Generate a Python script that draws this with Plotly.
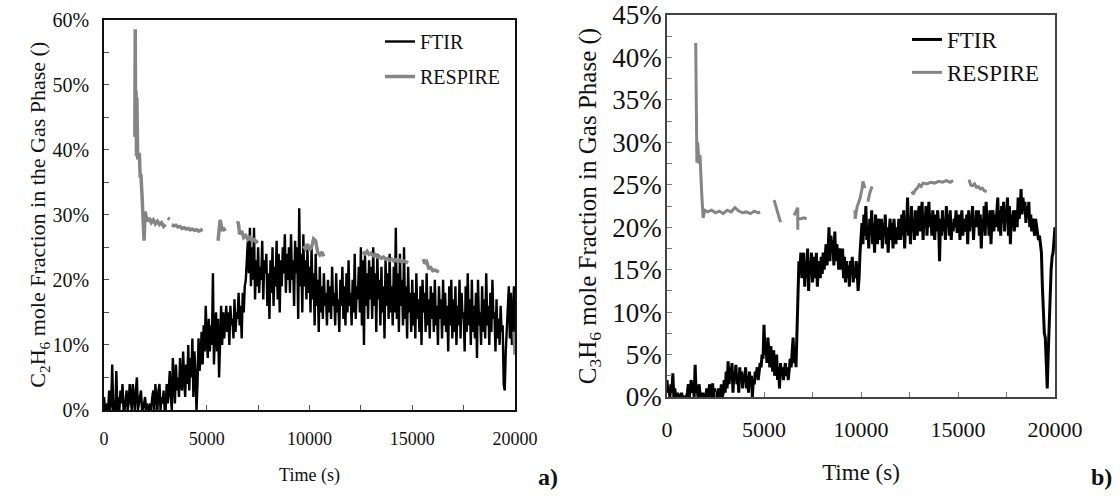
import plotly.graph_objects as go

# ---------------- data (values in %) ----------------
ftir_a_t0, ftir_a_step = 0, 50
ftir_a_vals = [
    2, 0, 0, 1, 0, 3, 0, 1, 7, 0, 1, 0, 6, 0, 2, 0, 3, 1, 4, 0,
    0, 2, 3, 0, 1, 4, 2, 0, 4, 1, 0, 3, 5, 0, 1, 2, 3, 0, 0, 1,
    2, 0, 1, 0, 0, 1, 0, 2, 3, 0, 4, 1, 0, 3, 4, 0, 2, 1, 3, 0,
    0, 4, 1, 3, 6, 2, 0, 8, 4, 1, 7, 3, 5, 2, 8, 4, 3, 9, 5, 2,
    7, 4, 10, 3, 8, 5, 11, 2, 9, 6, 0, 4, 11, 6, 8, 12, 7, 13, 9, 16,
    11, 8, 14, 9, 13, 10, 21, 7, 12, 15, 9, 14, 5, 13, 16, 10, 15, 11, 14, 16,
    12, 15, 10, 16, 13, 14, 11, 17, 12, 15, 14, 18, 13, 16, 11, 18, 15, 19, 20, 24,
    26, 21, 28, 19, 25, 20, 28, 17, 23, 19, 25, 18, 22, 20, 26, 17, 23, 21, 24, 16,
    21, 14, 23, 18, 25, 16, 22, 19, 26, 17, 24, 15, 23, 19, 25, 21, 27, 18, 24, 20,
    25, 18, 27, 20, 23, 16, 26, 21, 25, 14, 31, 19, 24, 15, 27, 19, 23, 17, 25, 18,
    22, 15, 25, 17, 21, 13, 24, 16, 20, 12, 22, 15, 19, 14, 21, 16, 18, 13, 20, 15,
    19, 14, 22, 16, 18, 13, 21, 15, 17, 12, 20, 16, 22, 14, 19, 13, 21, 15, 23, 16,
    18, 13, 20, 15, 24, 14, 19, 17, 22, 15, 25, 13, 23, 10, 24, 16, 21, 14, 23, 17,
    22, 14, 25, 16, 21, 12, 24, 17, 20, 13, 22, 15, 19, 11, 23, 16, 21, 14, 24, 15,
    19, 13, 22, 15, 28, 14, 21, 12, 24, 16, 20, 13, 25, 14, 19, 11, 22, 15, 18, 12,
    20, 13, 18, 11, 21, 14, 17, 12, 19, 10, 20, 15, 18, 12, 21, 13, 17, 11, 19, 14,
    18, 12, 20, 13, 16, 10, 19, 14, 17, 11, 20, 13, 18, 12, 16, 9, 19, 13, 20, 11,
    17, 12, 19, 10, 16, 13, 20, 11, 18, 14, 15, 9, 19, 12, 21, 13, 17, 10, 20, 12,
    16, 11, 18, 8, 20, 13, 15, 10, 19, 12, 17, 11, 21, 13, 16, 10, 18, 12, 20, 14,
    15, 9, 17, 11, 14, 10, 16, 12, 13, 4, 3, 9, 12, 15, 19, 11, 18, 10, 14, 19,
    12,
]

resp_a_time = [
    1500, 1520, 1540, 1560, 1580, 1600, 1640, 1680, 1720, 1760, 1800, 1850, 1900, 1950,
    2000, 2100, 2200, 2300, 2400, 2500, 2600, 2700, 2800, 2900, 3000, None,
    3100, 3200, None,
    3300, 3400, 3500, 3600, 3700, 3800, 3900, 4000, 4100, 4200, 4300, 4400, 4500, 4600, 4700, 4800, None,
    5550, 5600, 5650, 5700, 5750, 5800, 5900, None,
    6500, 6550, 6600, 6700, 6800, 6900, 7000, 7100, 7200, 7300, 7400, 7500, None,
    9700, 9800, 9900, 10000, 10100, 10200, 10300, 10400, 10500, 10600, 10700, None,
    12600, 12700, 12800, 12900, 13000, 13100, 13200, 13300, 13400, 13500, 13600, 13700,
    13800, 13900, 14000, 14100, 14200, 14300, 14400, 14500, 14600, 14700, 14800, None,
    15550, 15600, 15700, 15800, 15900, 16000, 16100, 16300, None,
    19950, 20000,
]
resp_a_vals = [
    42, 58.5, 42, 49, 39, 48, 38.5, 39.5, 39.5, 36, 36, 33, 30, 26,
    30.5, 29, 29.5, 28.8, 29.2, 28.6, 29, 28.5, 28.8, 28.2, 28.5, None,
    29.5, 29.3, None,
    28.5, 28.3, 28.4, 28.1, 28.2, 27.9, 28.0, 27.8, 27.9, 27.7, 27.8, 27.6, 27.7, 27.5, 27.6, 27.8, None,
    26, 28.5, 29.2, 28.5, 27.5, 28, 27.5, None,
    29, 28.5, 27, 27.5, 26.5, 26.8, 26.2, 26.5, 26, 26.2, 25.8, 26, None,
    25.2, 24.8, 25.5, 24.6, 25, 26.3, 26, 24.2, 23.8, 24.3, 23.6, None,
    24.3, 24.0, 24.4, 23.9, 24.1, 23.7, 23.9, 23.5, 23.6, 23.3, 23.5, 23.2,
    23.3, 23.0, 23.2, 22.9, 23.1, 22.8, 23.0, 22.7, 22.9, 22.8, 22.6, None,
    23.2, 22.5, 22.8, 21.8, 21.9, 21.4, 21.5, 21.2, None,
    12, 8.5,
]

ftir_b_t0, ftir_b_step = 0, 50
ftir_b_vals = [
    2, 0.5, 1, 0, 1.5, 0.5, 2.8, 0, 1, 0, 0, 0.5, 0, 0, 0, 0.5, 0, 0, 0, 0,
    0, 0.5, 1.5, 0, 1, 2, 0.5, 1.5, 0, 3.8, 0.5, 1, 0, 1.5, 0.5, 0, 0, 0.5, 0, 0,
    0, 1, 0, 0.5, 1.5, 0, 0.5, 1.6, 0, 1, 0, 0.5, 0, 1, 0, 0, 1.5, 0, 0.5, 2,
    0.5, 3, 1, 4.2, 1.5, 3.5, 2, 4, 0.5, 3, 2, 3.8, 1.5, 2.5, 0.5, 3.5, 2, 3, 1, 2.5,
    2, 3.5, 1, 2.5, 0.5, 3, 1.5, 2.5, 0, 2, 1.5, 3, 2.5, 3.5, 2, 3, 4, 3.5, 5, 4.5,
    8.5, 5, 6.5, 4, 7, 5.5, 3.5, 6, 4.5, 3, 5.5, 2.5, 4, 5, 2, 3.5, 1, 4, 2.5, 3.5,
    2, 3, 4, 2.5, 3.5, 2, 3, 4.5, 3.5, 5, 7, 4, 6, 3.5, 9, 14, 16, 15, 17, 14,
    15.5, 17, 13, 16, 14, 17.5, 12.5, 16, 14.5, 17, 13.5, 15, 16.5, 14, 17, 13, 15.5, 16, 14, 16.5,
    14.5, 17, 15, 16.5, 18, 15.5, 17, 20, 16, 19, 17.5, 18.5, 15.5, 19.5, 16, 18, 17, 15, 17.5, 16,
    15, 17.5, 14, 16.5, 13.5, 16, 14, 15.5, 13, 16, 14.5, 16.5, 13.5, 15, 14, 16, 15, 12.5, 14, 17,
    19, 20.5, 18, 21.5, 19, 22.5, 18.5, 20, 17.5, 21, 19, 22, 18, 20.5, 17, 21.5, 19.5, 18, 21, 19,
    18.5, 21, 17.5, 20.5, 19, 21.5, 18, 20, 17, 19.5, 21, 18.5, 20.5, 17.5, 21, 19, 18, 20, 18.5, 21,
    20, 18.5, 21.5, 19, 22, 17.5, 20.5, 19.5, 23.5, 19, 21, 18, 22.5, 19.5, 21, 18.5, 22, 20, 19, 21.5,
    22.5, 19.5, 21, 23, 18.5, 21.5, 20, 22.5, 19, 21, 23, 20, 21.5, 19, 22, 20.5, 18.5, 21.5, 19.5, 22,
    20.5, 16, 21, 19, 22, 19.5, 21, 18.5, 22.5, 20, 21.5, 19, 22, 18.5, 20.5, 19.5, 21, 20, 22, 19.5,
    19.5, 21.5, 18.5, 20.5, 22, 19, 21, 20, 19.5, 21.5, 18, 22, 19.5, 21, 20.5, 22.5, 18.5, 21, 20, 22,
    20, 22, 19, 21.5, 17.5, 21, 19.5, 22.5, 19, 23, 20.5, 21.5, 19, 22, 18, 21, 22, 19.5, 21.5, 20,
    21.5, 23.5, 19.5, 22, 19, 22.5, 20.5, 23, 19.5, 22, 21, 23.5, 19, 22.5, 18, 21.5, 20, 22, 19.5, 21,
    22, 20, 23.5, 21, 22, 24.5, 21.5, 23.5, 22, 23, 20.5, 22.5, 21, 23, 20, 21.5, 19.5, 21, 20, 19,
    21, 20, 19.5, 18.5, 19, 17.5, 17, 13, 9, 7.5, 7, 3, 1, 5, 9, 12, 15, 16.5, 17, 18.5,
    20,
]

resp_b_time = [
    1480, 1500, 1520, 1540, 1580, 1620, 1660, 1700, 1750, 1790, 1860, 1950,
    2100, 2300, 2500, 2700, 2900, 3100, 3300, 3500, 3700, 3900, 4100, 4300, 4500, 4700, 4800, None,
    5520, 5600, 5700, 5800, 5860, None,
    6550, 6650, 6740, 6740, 6740, 6900, 7050, 7200, None,
    9690, 9700, 9800, 9950, 10050, 10100, 10200, None,
    10360, 10450, 10570, None,
    12610, 12700, 12800, 12900, 13000, 13100, 13200, 13400, 13600, 13800, 14000, 14200, 14400, 14600, 14750, None,
    15570, 15650, 15750, 15850, 15950, 16050, 16150, 16250, 16350, 16480,
]
resp_b_vals = [
    41.7, 29.7, 34.8, 27.6, 30, 28.5, 27.5, 28.5, 25, 24, 21.1, 22,
    21.8, 22, 21.7, 21.9, 21.6, 22, 21.8, 22.3, 21.9, 21.7, 21.8, 21.6, 21.9, 21.7, 21.8, None,
    23.2, 22.5, 21.8, 21, 20.6, None,
    21.4, 21.8, 22.3, 19.7, 21, 21, 21.1, 21, None,
    22, 21, 22.4, 23.4, 24.5, 25.4, 24.6, None,
    23, 24, 24.8, None,
    24.2, 23.9, 24.4, 24.6, 25, 24.8, 25.2, 25.1, 25.3, 25.2, 25.4, 25.3, 25.5, 25.3, 25.5, None,
    25.6, 25, 24.9, 25.1, 24.7, 24.8, 24.5, 24.6, 24.3, 24.2,
]

x_tick_vals = [0, 5000, 10000, 15000, 20000]
x_tick_text = ["0", "5000", "10000", "15000", "20000"]
ya_tick_vals = [0, 10, 20, 30, 40, 50, 60]
ya_tick_text = ["0%", "10%", "20%", "30%", "40%", "50%", "60%"]
yb_tick_vals = [0, 5, 10, 15, 20, 25, 30, 35, 40, 45]
yb_tick_text = ["0%", "5%", "10%", "15%", "20%", "25%", "30%", "35%", "40%", "45%"]

ftir_a_time = [ftir_a_t0 + i * ftir_a_step for i in range(len(ftir_a_vals))]
ftir_b_time = [ftir_b_t0 + i * ftir_b_step for i in range(len(ftir_b_vals))]

FONT = "Liberation Serif, Times New Roman, serif"
GRAY = "#858585"
TXT = "#111111"

fig = go.Figure()
fig.add_trace(go.Scatter(x=ftir_a_time, y=ftir_a_vals, mode="lines", name="FTIR",
                         line=dict(color="black", width=2.4), xaxis="x", yaxis="y",
                         legend="legend", legendgroup="a1"))
fig.add_trace(go.Scatter(x=resp_a_time, y=resp_a_vals, mode="lines", name="RESPIRE",
                         line=dict(color=GRAY, width=3.5), xaxis="x", yaxis="y",
                         legend="legend", legendgroup="a2", connectgaps=False))
fig.add_trace(go.Scatter(x=ftir_b_time, y=ftir_b_vals, mode="lines", name="FTIR",
                         line=dict(color="black", width=3), xaxis="x2", yaxis="y2",
                         legend="legend2", legendgroup="b1"))
fig.add_trace(go.Scatter(x=resp_b_time, y=resp_b_vals, mode="lines", name="RESPIRE",
                         line=dict(color=GRAY, width=3), xaxis="x2", yaxis="y2",
                         legend="legend2", legendgroup="b2", connectgaps=False))

W, H = 1120, 497


def px_x(p):
    return p / W


def px_y(p):
    return 1 - p / H


def fnt(size):
    return dict(family=FONT, size=size, color=TXT)


axis_common = dict(showline=True, mirror=True, showgrid=False, zeroline=False,
                   ticks="inside", ticklen=5, automargin=False, tickmode="array")

fig.update_layout(
    width=W, height=H,
    margin=dict(l=0, r=0, t=0, b=0, autoexpand=False),
    paper_bgcolor="white", plot_bgcolor="white",
    font=fnt(18),
    xaxis=dict(domain=[px_x(104), px_x(515)], range=[0, 20000], anchor="y",
               tickvals=x_tick_vals, ticktext=x_tick_text,
               minor=dict(dtick=2500, ticks="inside", ticklen=5, tickcolor="#555"),
               tickcolor="#555",
               linecolor="#111", linewidth=1.6, tickfont=fnt(18),
               ticklabelstandoff=12,
               title=dict(text="Time (s)", font=fnt(18), standoff=20),
               **axis_common),
    yaxis=dict(domain=[px_y(410), px_y(19.5)], range=[0, 60], anchor="x",
               tickvals=ya_tick_vals, ticktext=ya_tick_text,
               minor=dict(dtick=5, ticks="inside", ticklen=5, tickcolor="#555"),
               tickcolor="#555",
               linecolor="#111", linewidth=1.6, tickfont=fnt(20),
               ticklabelstandoff=9,
               title=dict(text="C<sub>2</sub>H<sub>6</sub> mole Fraction in the Gas Phase ()",
                          font=fnt(22), standoff=0),
               **axis_common),
    xaxis2=dict(domain=[px_x(667), px_x(1055)], range=[0, 20000], anchor="y2",
                tickvals=x_tick_vals, ticktext=x_tick_text,
                minor=dict(dtick=2500, ticks="inside", ticklen=5, tickcolor="#777"),
                tickcolor="#777",
                linecolor="#444", linewidth=1.6, tickfont=fnt(22),
                ticklabelstandoff=12,
                title=dict(text="Time (s)", font=fnt(23), standoff=23),
                **axis_common),
    yaxis2=dict(domain=[px_y(397), px_y(15)], range=[0, 45], anchor="x2",
                tickvals=yb_tick_vals, ticktext=yb_tick_text,
                minor=dict(dtick=2.5, ticks="inside", ticklen=5, tickcolor="#777"),
                tickcolor="#777",
                linecolor="#444", linewidth=1.6, tickfont=fnt(27),
                ticklabelstandoff=-2,
                title=dict(text="C<sub>3</sub>H<sub>6</sub> mole Fraction in Gas Phase ()",
                           font=fnt(25), standoff=9),
                **axis_common),
    legend=dict(x=px_x(380), y=px_y(22), xanchor="left", yanchor="top",
                bgcolor="rgba(0,0,0,0)", borderwidth=0, tracegroupgap=6,
                font=fnt(20)),
    legend2=dict(x=px_x(907), y=px_y(18), xanchor="left", yanchor="top",
                 bgcolor="rgba(0,0,0,0)", borderwidth=0, tracegroupgap=0,
                 font=fnt(23)),
    showlegend=True,
    annotations=[
        dict(text="<b>a)</b>", x=px_x(536), y=px_y(477), xref="paper", yref="paper",
             xanchor="left", yanchor="middle", showarrow=False, font=fnt(24)),
        dict(text="<b>b)</b>", x=px_x(1089), y=px_y(477), xref="paper", yref="paper",
             xanchor="left", yanchor="middle", showarrow=False, font=fnt(24)),
    ],
)

fig.write_html("out.html")
